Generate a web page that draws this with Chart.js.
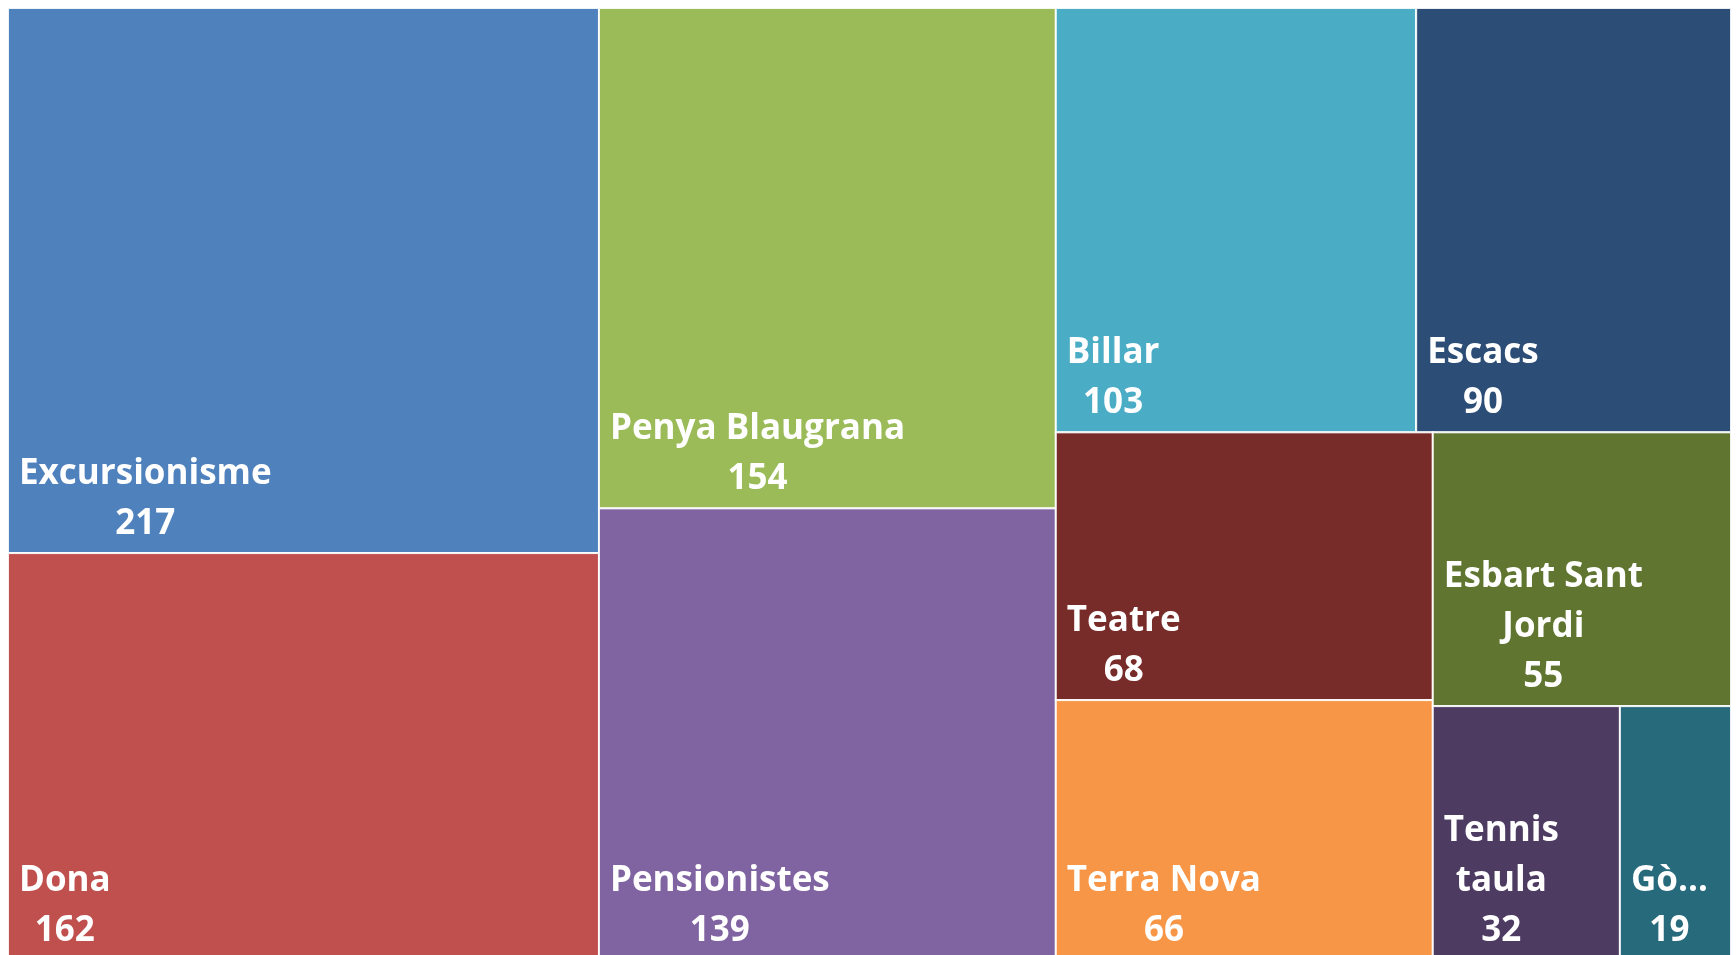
<!DOCTYPE html>
<html>
<head>
<meta charset="utf-8">
<script src="https://cdn.jsdelivr.net/npm/chart.js@4"></script>
<style>
  html, body { margin: 0; padding: 0; background: #fff; overflow: hidden; }
  #wrap { width: 1736px; height: 955px; overflow: hidden; }
</style>
</head>
<body>
<div id="wrap"><canvas id="chart" width="1736" height="960"></canvas></div>
<script>
// dades del treemap
const categories = ['Excursionisme', 'Dona', 'Penya Blaugrana', 'Pensionistes', 'Billar', 'Escacs',
                    'Teatre', 'Terra Nova', 'Esbart Sant Jordi', 'Tennis taula', 'Gò…'];
const values = [217, 162, 154, 139, 103, 90, 68, 66, 55, 32, 19];
const colors = ['#4F81BD', '#C0504D', '#9BBB59', '#8064A2', '#4BACC6', '#2C4D75',
                '#772C2A', '#F79646', '#5F7530', '#4D3B62', '#276A7C'];

// unitats de l'àrea (proporcionals als píxels de l'àrea del gràfic)
const AREA_W = 1723;
const AREA_H = 952;

// algorisme "squarified" clàssic
function squarify(vals, x, y, w, h) {
    const out = [];
    let rest = vals.map((v, i) => ({ v, i }));
    while (rest.length) {
        const restSum = rest.reduce((a, b) => a + b.v, 0);
        const scale = (w * h) / restSum;
        const wide = w >= h;
        const side = wide ? h : w;
        const worst = row => {
            const s = row.reduce((a, b) => a + b.v, 0) * scale;
            let m = 0;
            row.forEach(r => {
                const a = r.v * scale;
                m = Math.max(m, side * side * a / (s * s), (s * s) / (side * side * a));
            });
            return m;
        };
        let row = [rest[0]];
        let k = 1;
        while (k < rest.length && worst(row.concat(rest[k])) <= worst(row)) {
            row.push(rest[k]);
            k++;
        }
        const rowSum = row.reduce((a, b) => a + b.v, 0);
        const thick = rowSum * scale / side;
        let off = 0;
        row.forEach(r => {
            const len = r.v * scale / thick;
            if (wide) out[r.i] = { x0: x, y0: y + off, x1: x + thick, y1: y + off + len };
            else out[r.i] = { x0: x + off, y0: y, x1: x + off + len, y1: y + thick };
            off += len;
        });
        if (wide) { x += thick; w -= thick; } else { y += thick; h -= thick; }
        rest = rest.slice(k);
    }
    return out;
}

const cells = squarify(values, 0, 0, AREA_W, AREA_H);

function wrapText(ctx, text, maxW) {
    const words = text.split(' ');
    const lines = [];
    let cur = '';
    words.forEach(wd => {
        const test = cur ? cur + ' ' + wd : wd;
        if (ctx.measureText(test).width <= maxW || !cur) cur = test;
        else { lines.push(cur); cur = wd; }
    });
    if (cur) lines.push(cur);
    return lines;
}

const treemapPlugin = {
    id: 'treemap',
    afterDatasetsDraw(chart) {
        const ctx = chart.ctx;
        const xs = chart.scales.x, ys = chart.scales.y;
        ctx.save();
        cells.forEach((c, i) => {
            const left = xs.getPixelForValue(c.x0);
            const right = xs.getPixelForValue(c.x1);
            const top = ys.getPixelForValue(c.y0);
            const bottom = ys.getPixelForValue(c.y1);
            ctx.fillStyle = colors[i];
            ctx.fillRect(left, top, right - left, bottom - top);
            ctx.strokeStyle = 'rgba(255,255,255,0.9)';
            ctx.lineWidth = 2;
            ctx.strokeRect(left, top, right - left, bottom - top);

            // etiqueta: nom + valor, alineada a baix a l'esquerra
            ctx.font = 'bold 35px "Open Sans"';
            ctx.fillStyle = '#ffffff';
            ctx.textBaseline = 'alphabetic';
            ctx.textAlign = 'center';
            const pad = 11;
            const lines = wrapText(ctx, categories[i], right - left - 2 * pad);
            lines.push(String(values[i]));
            const blockW = Math.max(...lines.map(l => ctx.measureText(l).width));
            const cx = left + pad + blockW / 2;
            const lh = 50;
            let base = bottom - 19 - (lines.length - 1) * lh;
            lines.forEach(l => {
                ctx.fillText(l, cx, base);
                base += lh;
            });
        });
        ctx.restore();
    }
};

new Chart(document.getElementById('chart'), {
    type: 'scatter',
    data: { datasets: [{ data: [] }] },
    options: {
        responsive: false,
        animation: false,
        layout: { padding: { left: 8, top: 8, right: 5, bottom: 0 } },
        plugins: { legend: { display: false }, tooltip: { enabled: false } },
        scales: {
            x: { type: 'linear', min: 0, max: AREA_W, display: false },
            y: { type: 'linear', min: 0, max: AREA_H, reverse: true, display: false }
        }
    },
    plugins: [treemapPlugin]
});
</script>
</body>
</html>
